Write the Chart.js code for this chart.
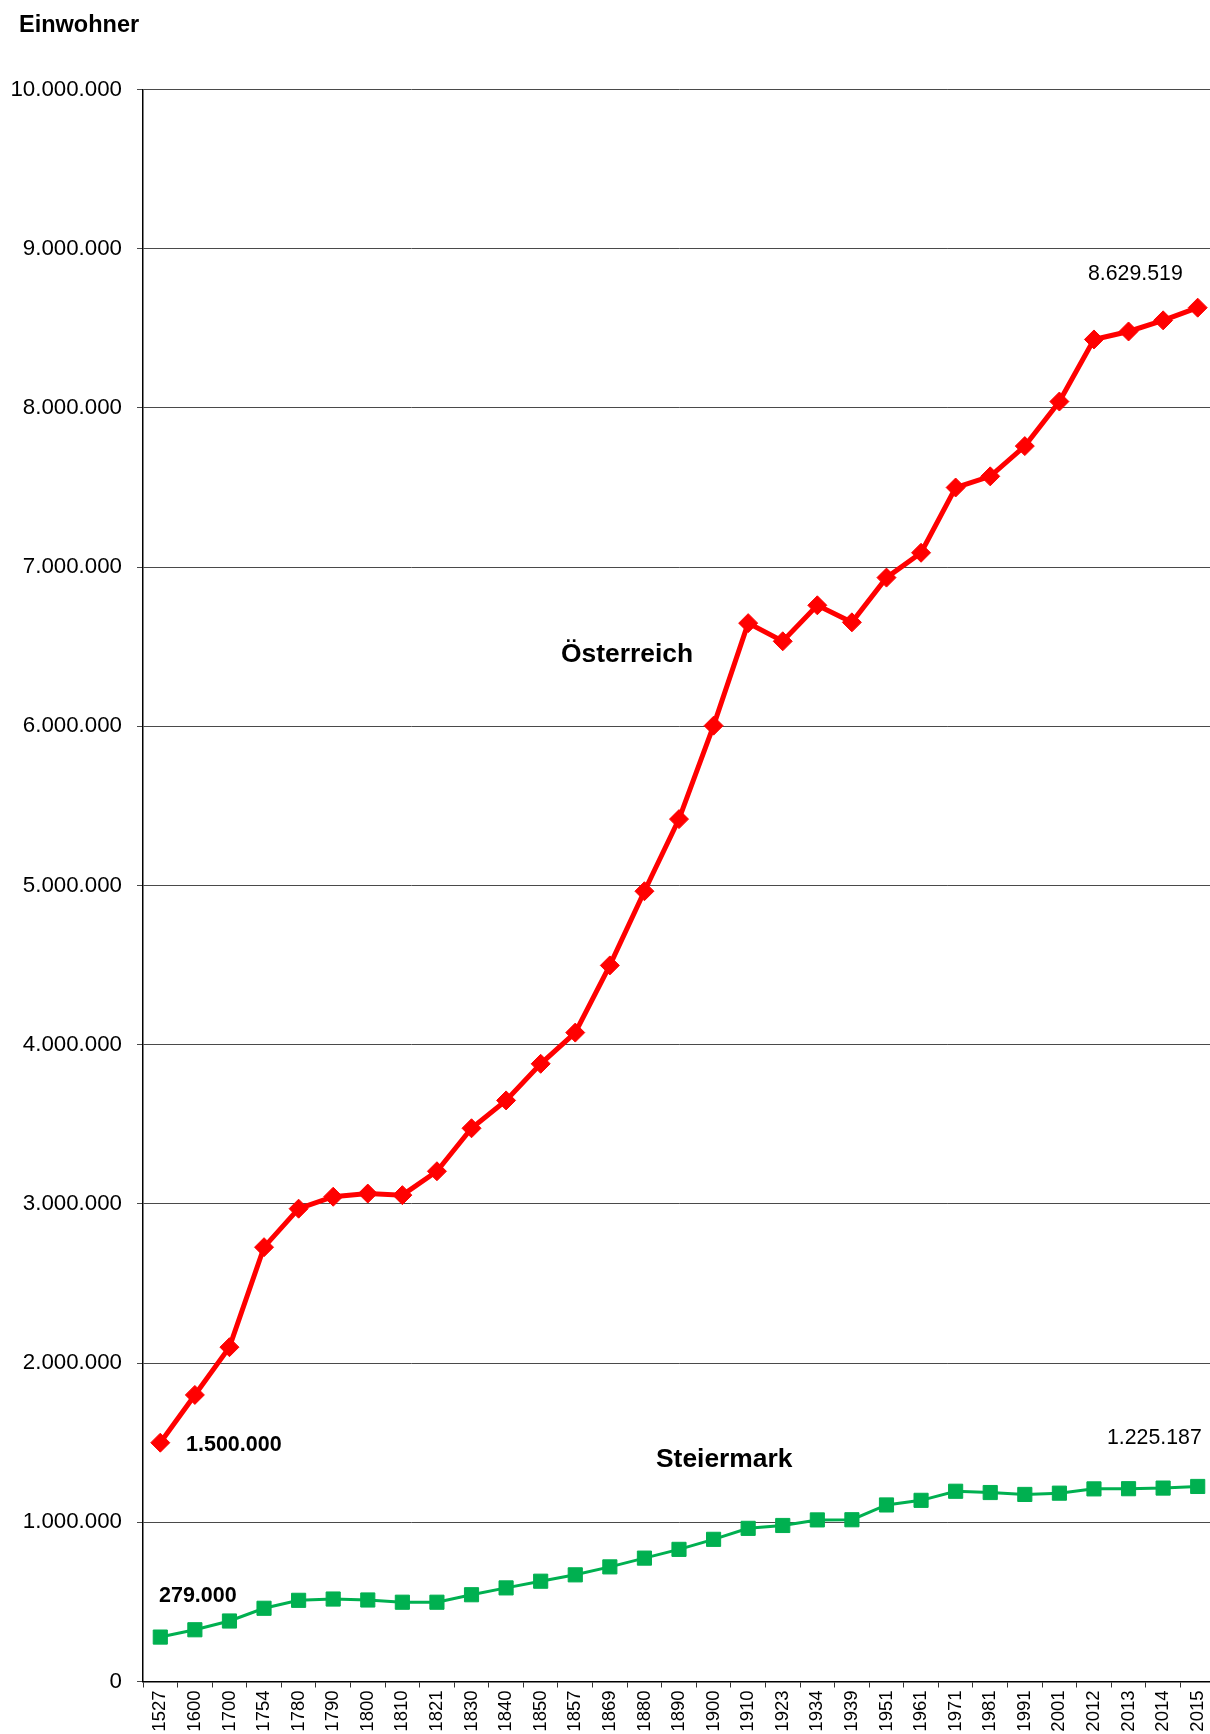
<!DOCTYPE html>
<html>
<head>
<meta charset="utf-8">
<script src="https://cdn.jsdelivr.net/npm/chart.js@4.4.1/dist/chart.umd.min.js"></script>
<style>
  html, body { margin: 0; padding: 0; background: #fff; overflow: hidden; }
  #wrap { position: relative; width: 1210px; height: 1734px; overflow: hidden; }
  canvas { display: block; }
</style>
</head>
<body>
<div id="wrap"><canvas id="c" width="1226" height="1734"></canvas></div>
<script>
const years = ['1527','1600','1700','1754','1780','1790','1800','1810','1821','1830','1840','1850','1857','1869','1880','1890','1900','1910','1923','1934','1939','1951','1961','1971','1981','1991','2001','2012','2013','2014','2015'];

const oesterreich = [1500000,1800000,2100000,2728000,2970000,3045000,3065000,3055000,3205000,3475000,3650000,3880000,4076000,4498000,4964000,5417000,6004000,6648000,6534000,6760000,6653000,6934000,7090000,7500000,7570000,7760000,8040000,8430000,8480000,8550000,8629519];

const steiermark = [279000,325000,380000,460000,510000,518000,512000,498000,498000,545000,588000,630000,670000,720000,775000,830000,893000,962000,980000,1015000,1016000,1109000,1138000,1195000,1187000,1175000,1183000,1210000,1211000,1215000,1225187];

const yTickValues = [0,1000000,2000000,3000000,4000000,5000000,6000000,7000000,8000000,9000000,10000000];

const annotations = [
  { text: 'Einwohner',  x: 19,   y: 32,   font: 'bold 23.5px "Liberation Sans", Arial, sans-serif' },
  { text: 'Österreich', x: 561,  y: 662,  font: 'bold 26.4px "Liberation Sans", Arial, sans-serif' },
  { text: 'Steiermark', x: 656,  y: 1467, font: 'bold 26.4px "Liberation Sans", Arial, sans-serif' },
  { text: '1.500.000',  x: 186,  y: 1451, font: 'bold 21.5px "Liberation Sans", Arial, sans-serif' },
  { text: '279.000',    x: 159,  y: 1602, font: 'bold 21.5px "Liberation Sans", Arial, sans-serif' },
  { text: '8.629.519',  x: 1088, y: 280,  font: '21.3px "Liberation Sans", Arial, sans-serif' },
  { text: '1.225.187',  x: 1107, y: 1444, font: '21.3px "Liberation Sans", Arial, sans-serif' }
];

function fmt(v) {
  return String(Math.round(v)).replace(/\B(?=(\d{3})+(?!\d))/g, '.');
}

const textPlugin = {
  id: 'texts',
  afterDraw(chart) {
    const ctx = chart.ctx;
    ctx.save();
    ctx.fillStyle = '#000';
    ctx.textAlign = 'left';
    ctx.textBaseline = 'alphabetic';
    annotations.forEach(a => {
      ctx.font = a.font;
      ctx.fillText(a.text, a.x, a.y);
    });
    ctx.restore();
  }
};

Chart.defaults.font.family = '"Liberation Sans", Arial, sans-serif';
Chart.defaults.color = '#000';

new Chart(document.getElementById('c'), {
  type: 'line',
  data: {
    labels: years,
    datasets: [
      {
        label: 'Österreich',
        data: oesterreich,
        borderColor: '#ff0000',
        backgroundColor: '#ff0000',
        borderWidth: 5,
        tension: 0,
        pointStyle: 'rectRot',
        pointRadius: 9.5,
        pointBorderWidth: 1,
        pointBackgroundColor: '#ff0000',
        pointBorderColor: '#ff0000',
        clip: false
      },
      {
        label: 'Steiermark',
        data: steiermark,
        borderColor: '#00b050',
        backgroundColor: '#00b050',
        borderWidth: 3,
        tension: 0,
        pointStyle: 'rect',
        pointRadius: 10,
        pointBorderWidth: 1,
        pointBackgroundColor: '#00b050',
        pointBorderColor: '#00b050',
        clip: false
      }
    ]
  },
  options: {
    responsive: false,
    animation: false,
    devicePixelRatio: 1,
    layout: { padding: { top: 89.5, left: 0, right: 1.4, bottom: 0 } },
    plugins: {
      legend: { display: false },
      tooltip: { enabled: false },
      title: { display: false }
    },
    scales: {
      x: {
        offset: true,
        grid: {
          offset: true,
          drawOnChartArea: false,
          drawTicks: true,
          tickLength: 6,
          color: '#333',
          lineWidth: 1
        },
        border: { display: true, color: '#000', width: 1.5 },
        ticks: {
          autoSkip: false,
          minRotation: 90,
          maxRotation: 90,
          padding: 3,
          color: '#000',
          font: { size: 18.5 }
        },
        afterFit(scale) {
          scale.height = 52.5;
        }
      },
      y: {
        min: 0,
        max: 10000000,
        afterBuildTicks(scale) {
          scale.ticks = yTickValues.map(v => ({ value: v }));
        },
        grid: {
          color: '#4a4a4a',
          lineWidth: 1,
          drawTicks: true,
          tickLength: 6,
          tickColor: '#4a4a4a'
        },
        border: { display: true, color: '#000', width: 1.5 },
        ticks: {
          padding: 15,
          color: '#000',
          font: { size: 22.3 },
          callback: (v) => fmt(v)
        },
        afterFit(scale) {
          scale.width = 143;
        }
      }
    }
  },
  plugins: [textPlugin]
});
</script>
</body>
</html>
